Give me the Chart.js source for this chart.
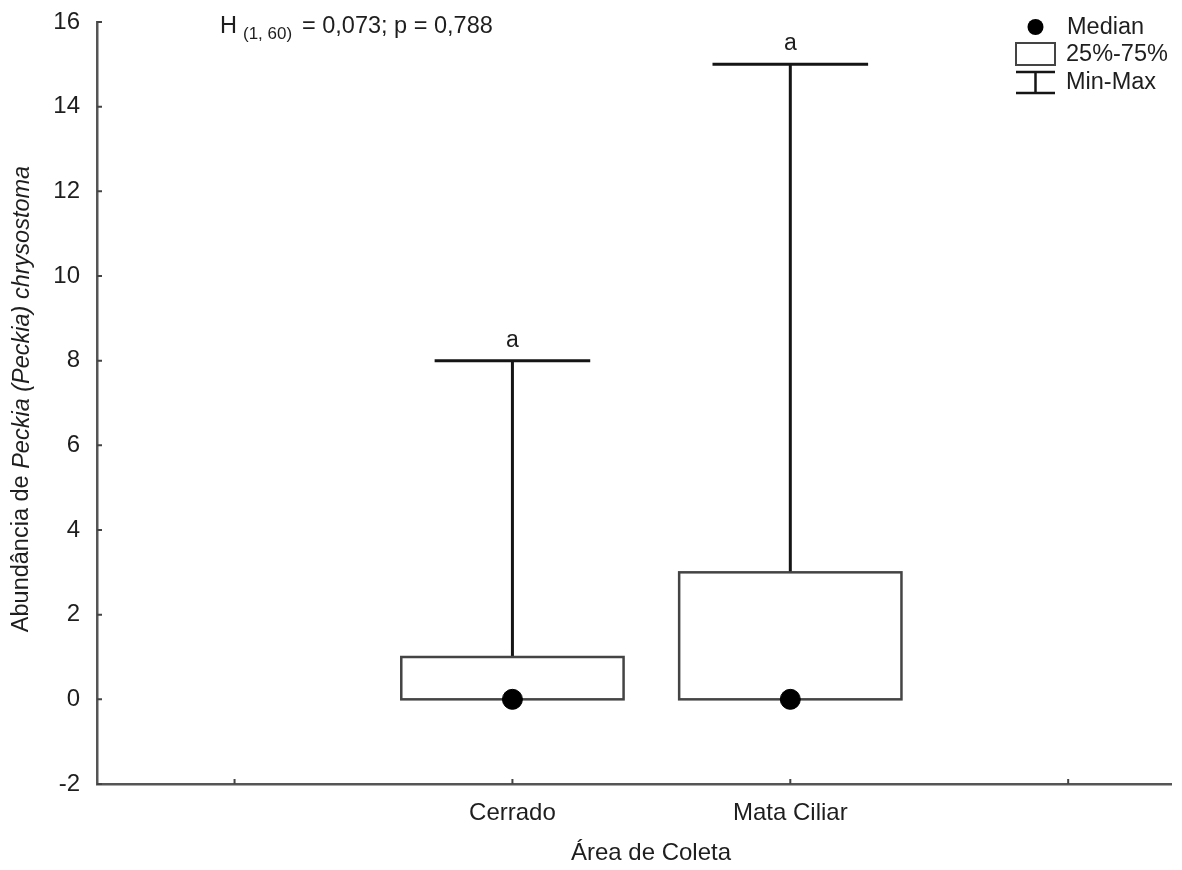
<!DOCTYPE html>
<html lang="pt">
<head>
  <meta charset="UTF-8" />
  <title>Abundância de Peckia (Peckia) chrysostoma</title>
  <script src="https://cdn.jsdelivr.net/npm/chart.js"></script>
  <style>
    html, body { margin: 0; padding: 0; background: #fff; }
    #wrap { width: 1182px; height: 870px; }
  </style>
</head>
<body>
  <div id="wrap"><canvas id="grafico"></canvas></div>

  <script>
    // dados por área de coleta
    const areas = ['Cerrado', 'Mata Ciliar'];
    const posicoes = [1, 2];
    const medianas = [0, 0];
    const quartil25 = [0, 0];
    const quartil75 = [1, 3];
    const minimos = [0, 0];
    const maximos = [8, 15];
    const letras = ['a', 'a'];
    const ticksY = [-2, 0, 2, 4, 6, 8, 10, 12, 14, 16];
    const ticksX = [0, 1, 2, 3];

    const fonte = '"Liberation Sans", Arial, sans-serif';
    const corTexto = '#1e1e1e';
    const meiaCaixa = 0.4;
    const meiaBarra = 0.28;

    // caixas, bigodes, marcas dos eixos e textos
    const boxPlot = {
      id: 'boxPlot',
      beforeDatasetsDraw(chart) {
        const { ctx, scales: { x, y } } = chart;
        ctx.save();
        ctx.lineCap = 'butt';
        areas.forEach((_, i) => {
          const cx = x.getPixelForValue(posicoes[i]);
          const xl = x.getPixelForValue(posicoes[i] - meiaCaixa);
          const xr = x.getPixelForValue(posicoes[i] + meiaCaixa);
          const bl = x.getPixelForValue(posicoes[i] - meiaBarra);
          const br = x.getPixelForValue(posicoes[i] + meiaBarra);
          const yTop = y.getPixelForValue(quartil75[i]);
          const yBot = y.getPixelForValue(quartil25[i]);
          const yMax = y.getPixelForValue(maximos[i]);
          const yMin = y.getPixelForValue(minimos[i]);

          ctx.strokeStyle = '#151515';
          ctx.lineWidth = 3;
          ctx.beginPath();
          ctx.moveTo(cx, yTop); ctx.lineTo(cx, yMax);
          ctx.moveTo(bl, yMax); ctx.lineTo(br, yMax);
          if (minimos[i] < quartil25[i]) {
            ctx.moveTo(cx, yBot); ctx.lineTo(cx, yMin);
            ctx.moveTo(bl, yMin); ctx.lineTo(br, yMin);
          }
          ctx.stroke();

          ctx.strokeStyle = '#444';
          ctx.lineWidth = 2.5;
          ctx.strokeRect(xl, yTop, xr - xl, yBot - yTop);

          ctx.fillStyle = corTexto;
          ctx.font = '23px ' + fonte;
          ctx.textAlign = 'center';
          ctx.textBaseline = 'bottom';
          ctx.fillText(letras[i], cx, yMax - 9);
        });
        ctx.restore();
      },
      afterDraw(chart) {
        const { ctx, chartArea: a, scales: { x, y } } = chart;
        ctx.save();

        // marcas dos eixos voltadas para dentro
        ctx.strokeStyle = '#444';
        ctx.lineWidth = 2;
        ctx.beginPath();
        ticksY.forEach(v => {
          const py = y.getPixelForValue(v);
          ctx.moveTo(a.left, py); ctx.lineTo(a.left + 5, py);
        });
        ticksX.forEach(v => {
          const px = x.getPixelForValue(v);
          ctx.moveTo(px, a.bottom); ctx.lineTo(px, a.bottom - 5);
        });
        ctx.stroke();

        ctx.fillStyle = corTexto;

        // título do eixo x
        ctx.font = '24px ' + fonte;
        ctx.textAlign = 'center';
        ctx.textBaseline = 'middle';
        ctx.fillText('Área de Coleta', 651, 853);

        // título do eixo y, parte em itálico
        const partes = [
          ['Abundância de ', 'normal'],
          ['Peckia (Peckia) chrysostoma', 'italic']
        ];
        ctx.save();
        ctx.translate(22, 399);
        ctx.rotate(-Math.PI / 2);
        let total = 0;
        partes.forEach(([t, s]) => {
          ctx.font = s + ' 23.5px ' + fonte;
          total += ctx.measureText(t).width;
        });
        let px = -total / 2;
        ctx.textAlign = 'left';
        partes.forEach(([t, s]) => {
          ctx.font = s + ' 23.5px ' + fonte;
          ctx.fillText(t, px, 0);
          px += ctx.measureText(t).width;
        });
        ctx.restore();

        // estatística de Kruskal-Wallis
        ctx.textAlign = 'left';
        ctx.textBaseline = 'alphabetic';
        ctx.font = '23.5px ' + fonte;
        ctx.fillText('H', 220, 33);
        ctx.font = '17px ' + fonte;
        ctx.fillText('(1, 60)', 243, 39);
        ctx.font = '23.5px ' + fonte;
        ctx.fillText('= 0,073; p = 0,788', 302, 33);

        // legenda
        const lx = 1016, lw = 39, cxl = lx + lw / 2;
        ctx.fillStyle = '#000';
        ctx.beginPath();
        ctx.arc(cxl, 27, 8, 0, Math.PI * 2);
        ctx.fill();
        ctx.strokeStyle = '#444';
        ctx.lineWidth = 2;
        ctx.strokeRect(lx, 43, lw, 22);
        ctx.strokeStyle = '#151515';
        ctx.lineWidth = 2.5;
        ctx.beginPath();
        ctx.moveTo(lx, 72); ctx.lineTo(lx + lw, 72);
        ctx.moveTo(cxl, 72); ctx.lineTo(cxl, 93);
        ctx.moveTo(lx, 93); ctx.lineTo(lx + lw, 93);
        ctx.stroke();
        ctx.fillStyle = corTexto;
        ctx.font = '23.5px ' + fonte;
        ctx.textBaseline = 'middle';
        ctx.fillText('Median', 1067, 28);
        ctx.fillText('25%-75%', 1066, 55);
        ctx.fillText('Min-Max', 1066, 83);

        ctx.restore();
      }
    };

    const ctx = document.getElementById('grafico').getContext('2d');
    new Chart(ctx, {
      type: 'scatter',
      data: {
        datasets: [{
          label: 'Median',
          data: posicoes.map((p, i) => ({ x: p, y: medianas[i] })),
          backgroundColor: '#000',
          borderColor: '#000',
          pointRadius: 10,
          pointHoverRadius: 10
        }]
      },
      options: {
        responsive: true,
        maintainAspectRatio: false,
        animation: false,
        layout: { padding: { top: 22, right: 9, left: 0, bottom: 0 } },
        plugins: {
          legend: { display: false },
          tooltip: { enabled: false }
        },
        scales: {
          x: {
            type: 'linear',
            min: -0.495,
            max: 3.37,
            afterFit(scale) {
              scale.height = 86;
              scale.paddingLeft = 0;
              scale.paddingRight = 0;
            },
            afterBuildTicks(scale) { scale.ticks = ticksX.map(v => ({ value: v })); },
            grid: { display: false, drawTicks: false },
            border: { display: true, color: '#555', width: 2.5 },
            ticks: {
              padding: 15,
              maxRotation: 0,
              autoSkip: false,
              color: corTexto,
              font: { family: fonte, size: 24 },
              callback: v => {
                const i = posicoes.indexOf(v);
                return i >= 0 ? areas[i] : '';
              }
            }
          },
          y: {
            min: -2,
            max: 16,
            afterFit(scale) {
              scale.width = 97;
              scale.paddingTop = 0;
              scale.paddingBottom = 0;
            },
            afterBuildTicks(scale) { scale.ticks = ticksY.map(v => ({ value: v })); },
            grid: { display: false, drawTicks: false },
            border: { display: true, color: '#555', width: 2.5 },
            ticks: {
              padding: 17,
              color: corTexto,
              font: { family: fonte, size: 24 }
            }
          }
        }
      },
      plugins: [boxPlot]
    });
  </script>
</body>
</html>
